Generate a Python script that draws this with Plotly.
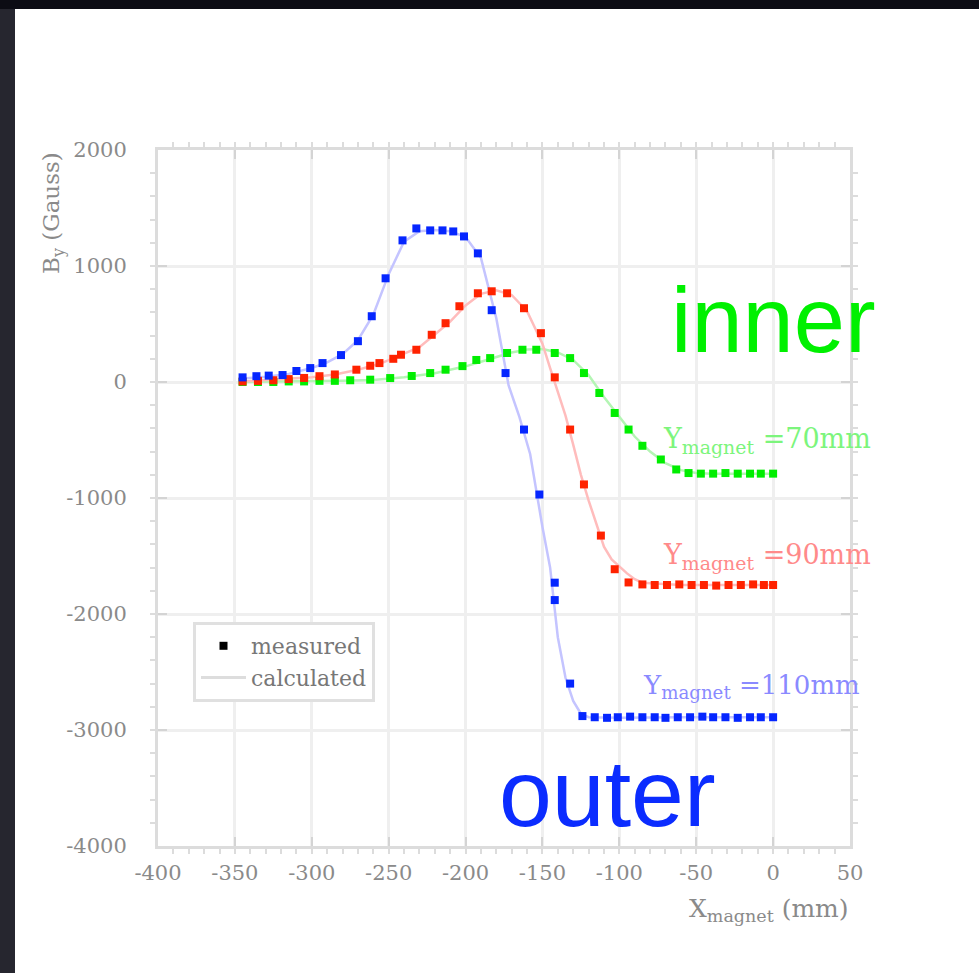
import plotly.graph_objects as go

# ---------------- data ----------------
# Y_magnet = 110 mm (outer) - measured
blue_meas_x = [-345, -336, -328, -319, -310, -301, -293, -281, -270, -261, -252, -241, -232, -223,
               -215, -208, -201, -192, -183, -174, -162, -152, -142, -142, -132,
               -124, -116, -108, -101, -93, -85, -77, -70, -62, -54, -46, -39, -31, -23, -15, -8, 0]
blue_meas_y = [40, 50, 55, 60, 95, 120, 163, 232, 352, 567, 894, 1221, 1324, 1307,
               1307, 1298, 1255, 1109, 619, 77, -410, -970, -1730, -1880, -2600,
               -2880, -2890, -2895, -2890, -2885, -2890, -2890, -2895, -2890, -2890, -2885, -2890,
               -2890, -2895, -2890, -2890, -2890]
# Y_magnet = 110 mm - calculated
blue_calc_x = [-345, -330, -315, -300, -290, -280, -270, -260, -250, -240, -230, -220, -210, -200,
               -190, -180, -172, -165, -158, -150, -145, -140, -135, -130, -125, -120, -100, -80,
               -60, -40, -20, 0]
blue_calc_y = [30, 45, 70, 120, 170, 240, 360, 580, 930, 1210, 1300, 1310, 1300, 1250,
               1070, 550, -30, -300, -620, -1250, -1600, -2200, -2550, -2750, -2860, -2890, -2895,
               -2890, -2890, -2890, -2890, -2890]

# Y_magnet = 90 mm - measured
red_meas_x = [-345, -335, -325, -315, -305, -295, -285, -271, -262, -256, -247, -242, -232, -222,
              -213, -204, -192, -183, -173, -162, -151, -142, -132, -123, -112, -103, -94,
              -85, -77, -69, -61, -53, -45, -37, -29, -21, -13, -6, 0]
red_meas_y = [5, 10, 15, 25, 35, 50, 65, 106, 140, 163, 200, 235, 278, 407,
              507, 653, 765, 782, 765, 636, 421, 40, -410, -883, -1324, -1614, -1728,
              -1745, -1750, -1750, -1745, -1750, -1750, -1755, -1750, -1750, -1745, -1750, -1750]
# Y_magnet = 90 mm - calculated
red_calc_x = [-345, -330, -315, -300, -285, -270, -255, -240, -230, -220, -210, -200, -190, -180,
              -170, -160, -150, -145, -140, -135, -130, -125, -120, -115, -110, -105, -100, -95,
              -90, -85, -60, -40, -20, 0]
red_calc_y = [5, 15, 25, 40, 65, 105, 160, 240, 300, 410, 520, 660, 760, 790,
              750, 610, 330, 120, -80, -290, -540, -800, -1020, -1230, -1420, -1530, -1590, -1650,
              -1700, -1730, -1750, -1750, -1750, -1750]

# Y_magnet = 70 mm (inner) - measured
green_meas_x = [-345, -335, -325, -315, -305, -295, -285, -275, -262, -249, -235, -223, -213, -202,
                -193, -184, -173, -163, -154, -142, -132, -123, -113, -103, -94, -85, -73, -63,
                -55, -47, -39, -31, -23, -15, -8, 0]
green_meas_y = [0, 0, 0, 5, 5, 10, 10, 15, 20, 34, 52, 77, 106, 137,
                190, 206, 250, 278, 278, 250, 206, 77, -95, -267, -410, -550, -668, -754,
                -785, -790, -790, -785, -790, -790, -790, -790]
# Y_magnet = 70 mm - calculated
green_calc_x = [-345, -320, -300, -280, -260, -240, -220, -200, -190, -180, -170, -160, -150, -140,
                -130, -120, -110, -100, -90, -80, -70, -60, -50, -40, -20, 0]
green_calc_y = [0, 2, 5, 10, 18, 40, 75, 135, 175, 215, 255, 280, 285, 255,
                190, 60, -130, -300, -470, -600, -700, -760, -785, -790, -790, -790]

x_ticks = [-400, -350, -300, -250, -200, -150, -100, -50, 0, 50]
y_ticks = [2000, 1000, 0, -1000, -2000, -3000, -4000]

# ---------------- layout helpers ----------------
W, H = 979, 973
L, R, T, B = 158, 850, 150, 846


def px(x):
    return (x - L) / (R - L)


def py(y):
    return (B - y) / (B - T)


fig = go.Figure()

calc_styles = [(green_calc_x, green_calc_y, "#b4f5b4"),
               (red_calc_x, red_calc_y, "#ffbcbc"),
               (blue_calc_x, blue_calc_y, "#c4c4ff")]
for xs, ys, c in calc_styles:
    fig.add_trace(go.Scatter(x=xs, y=ys, mode="lines", line=dict(color=c, width=2.5),
                             showlegend=False, hoverinfo="skip"))

meas_styles = [(green_meas_x, green_meas_y, "#00ee00"),
               (red_meas_x, red_meas_y, "#ff2200"),
               (blue_meas_x, blue_meas_y, "#0526ff")]
for xs, ys, c in meas_styles:
    fig.add_trace(go.Scatter(x=xs, y=ys, mode="markers",
                             marker=dict(symbol="square", size=8, color=c, line=dict(width=0)),
                             showlegend=False))

# legend dummies
fig.add_trace(go.Scatter(x=[None], y=[None], mode="markers", name="measured",
                         marker=dict(symbol="square", size=8, color="black")))
fig.add_trace(go.Scatter(x=[None], y=[None], mode="lines", name="calculated",
                         line=dict(color="#dddddd", width=3)))

tickfont = dict(family="DejaVu Serif", size=21, color="#8a8a8a")
axis_common = dict(
    showline=True, linecolor="#dcdcdc", linewidth=3, mirror="ticks",
    ticks="inside", ticklen=9, tickwidth=2, tickcolor="#d4d4d4",
    showgrid=True, gridcolor="#efefef", gridwidth=3,
    zeroline=False, tickfont=tickfont,
)

fig.update_xaxes(range=[-400, 50], tickvals=x_ticks, ticktext=[str(v) for v in x_ticks],
                 minor=dict(dtick=10, ticklen=5, tickcolor="#dcdcdc", tickwidth=2, showgrid=False),
                 ticklabelstandoff=6, **axis_common)
fig.update_yaxes(range=[-4000, 2000], tickvals=y_ticks, ticktext=[str(v) for v in y_ticks],
                 minor=dict(dtick=200, ticklen=5, tickcolor="#dcdcdc", tickwidth=2, showgrid=False),
                 ticklabelstandoff=24, **axis_common)


def ann(x, y, text, font, **kw):
    d = dict(x=px(x), y=py(y), xref="paper", yref="paper", text=text, showarrow=False, font=font)
    d.update(kw)
    return d


annotations = [
    ann(53, 213, "B<sub>y</sub> (Gauss)", dict(family="DejaVu Serif", size=23, color="#8a8a8a"),
        textangle=-90, xanchor="center", yanchor="middle"),
    ann(851, 910, "X<sub>magnet</sub> (mm)", dict(family="DejaVu Serif", size=25, color="#8a8a8a"),
        xanchor="right", yanchor="middle"),
    ann(773, 320, "inner", dict(family="Liberation Sans", size=92, color="#00f000"),
        xanchor="center", yanchor="middle"),
    ann(607, 793, "outer", dict(family="Liberation Sans", size=95, color="#0b2cff"),
        xanchor="center", yanchor="middle"),
    ann(661, 440, "Y<sub>magnet</sub> =70mm", dict(family="DejaVu Serif", size=27, color="#7cf57c"),
        xanchor="left", yanchor="middle"),
    ann(661, 556, "Y<sub>magnet</sub> =90mm", dict(family="DejaVu Serif", size=27, color="#ff8a8a"),
        xanchor="left", yanchor="middle"),
    ann(641, 686, "Y<sub>magnet</sub> =110mm", dict(family="DejaVu Serif", size=26, color="#8a8aff"),
        xanchor="left", yanchor="middle"),
]

shapes = [
    # dark frame bands of the photographed slide
    dict(type="rect", xref="paper", yref="paper", x0=px(0), x1=px(15), y0=py(H), y1=py(0),
         fillcolor="#26262f", line=dict(width=0), layer="above"),
    dict(type="rect", xref="paper", yref="paper", x0=px(0), x1=px(W), y0=py(9), y1=py(0),
         fillcolor="#0c0c14", line=dict(width=0), layer="above"),
]

fig.update_layout(
    width=W, height=H,
    margin=dict(l=L, r=W - R, t=T, b=H - B, autoexpand=False),
    paper_bgcolor="white", plot_bgcolor="white",
    annotations=annotations, shapes=shapes,
    legend=dict(x=px(193), y=py(622), xanchor="left", yanchor="top",
                bgcolor="white", bordercolor="#e0e0e0", borderwidth=3,
                font=dict(family="DejaVu Serif", size=22, color="#777777"),
                itemwidth=45, tracegroupgap=4),
    showlegend=True,
)

fig.write_html("out.html")
